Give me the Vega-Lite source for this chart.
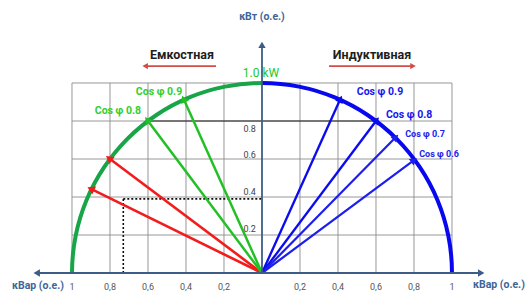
{
  "$schema": "https://vega.github.io/schema/vega-lite/v6.json",
  "width": 531,
  "height": 293,
  "padding": 0,
  "autosize": {"type": "none"},
  "background": "white",
  "config": {"view": {"stroke": null}, "text": {"font": "Roboto"}},
  "resolve": {"scale": {"color": "independent", "size": "independent", "strokeWidth": "independent"}},
  "encoding": {
    "x": {"field": "x", "type": "quantitative", "scale": {"domain": [-1.3789, 1.4158], "nice": false, "zero": false}, "axis": null},
    "y": {"field": "y", "type": "quantitative", "scale": {"domain": [-0.10526, 1.43684], "nice": false, "zero": false}, "axis": null}
  },
  "layer": [
    {
      "data": {"values": [
        {"x": -1, "y": 0, "y2": 1}, {"x": -0.8, "y": 0, "y2": 1}, {"x": -0.6, "y": 0, "y2": 1},
        {"x": -0.4, "y": 0, "y2": 1}, {"x": -0.2, "y": 0, "y2": 1}, {"x": 0.2, "y": 0, "y2": 1},
        {"x": 0.4, "y": 0, "y2": 1}, {"x": 0.6, "y": 0, "y2": 1}, {"x": 0.8, "y": 0, "y2": 1},
        {"x": 1, "y": 0, "y2": 1}
      ]},
      "mark": {"type": "rule", "color": "#8c8c8c", "strokeWidth": 0.9},
      "encoding": {"y2": {"field": "y2"}}
    },
    {
      "data": {"values": [
        {"x": -1, "x2": 1, "y": 0.2}, {"x": -1, "x2": 1, "y": 0.4}, {"x": -1, "x2": 1, "y": 0.6},
        {"x": -1, "x2": 1, "y": 0.8}, {"x": -1, "x2": 1, "y": 1.0}
      ]},
      "mark": {"type": "rule", "color": "#8c8c8c", "strokeWidth": 0.9},
      "encoding": {"x2": {"field": "x2"}}
    },
    {
      "data": {"values": [{"x": -0.6, "x2": 0.6, "y": 0.8}]},
      "mark": {"type": "rule", "color": "#222222", "strokeWidth": 1.1},
      "encoding": {"x2": {"field": "x2"}}
    },
    {
      "data": {"values": [
        {"x": -0.73, "y": 0, "x2": -0.73, "y2": 0.39},
        {"x": -0.73, "y": 0.39, "x2": 0, "y2": 0.39}
      ]},
      "mark": {"type": "rule", "color": "#111111", "strokeWidth": 1.6, "strokeDash": [2, 2]},
      "encoding": {"x2": {"field": "x2"}, "y2": {"field": "y2"}}
    },
    {
      "data": {"values": [
        {"x": 0, "y": 0, "start": -1.5708, "end": 0, "side": "left"},
        {"x": 0, "y": 0, "start": 0, "end": 1.5708, "side": "right"}
      ]},
      "mark": {"type": "arc", "radius": 192, "radius2": 188},
      "encoding": {
        "theta": {"field": "start", "type": "quantitative", "scale": null},
        "theta2": {"field": "end"},
        "color": {"field": "side", "type": "nominal", "scale": {"domain": ["left", "right"], "range": ["#17a548", "#0808f0"]}, "legend": null}
      }
    },
    {
      "data": {"values": [
        {"x": 0, "y": 0, "x2": -0.80, "y2": 0.60, "kind": "red"},
        {"x": 0, "y": 0, "x2": -0.895, "y2": 0.44, "kind": "red"},
        {"x": 0, "y": 0, "x2": -0.60, "y2": 0.80, "kind": "green"},
        {"x": 0, "y": 0, "x2": -0.41, "y2": 0.91, "kind": "green"},
        {"x": 0, "y": 0, "x2": 0.41, "y2": 0.91, "kind": "blue"},
        {"x": 0, "y": 0, "x2": 0.60, "y2": 0.80, "kind": "blue"},
        {"x": 0, "y": 0, "x2": 0.70, "y2": 0.71, "kind": "bluethin"},
        {"x": 0, "y": 0, "x2": 0.795, "y2": 0.59, "kind": "bluethin"}
      ]},
      "layer": [
        {
          "mark": {"type": "rule"},
          "encoding": {
            "x2": {"field": "x2"},
            "y2": {"field": "y2"},
            "color": {"field": "kind", "type": "nominal", "scale": {"domain": ["red", "green", "blue", "bluethin"], "range": ["#f21c1c", "#22c025", "#0b0bee", "#1d1df0"]}, "legend": null},
            "strokeWidth": {"field": "kind", "type": "nominal", "scale": {"domain": ["red", "green", "blue", "bluethin"], "range": [2.6, 2.2, 2.8, 1.1]}, "legend": null}
          }
        },
        {
          "transform": [{"calculate": "atan2(datum.x2, datum.y2) * 180 / PI", "as": "angle"}],
          "mark": {"type": "point", "shape": "triangle", "filled": true, "opacity": 1},
          "encoding": {
            "x": {"field": "x2", "type": "quantitative"},
            "y": {"field": "y2", "type": "quantitative"},
            "angle": {"field": "angle", "type": "quantitative", "scale": null},
            "color": {"field": "kind", "type": "nominal", "scale": {"domain": ["red", "green", "blue", "bluethin"], "range": ["#f21c1c", "#22c025", "#0b0bee", "#1d1df0"]}, "legend": null},
            "size": {"field": "kind", "type": "nominal", "scale": {"domain": ["red", "green", "blue", "bluethin"], "range": [75, 65, 75, 35]}, "legend": null}
          }
        }
      ]
    },
    {
      "data": {"values": [
        {"x": -1.195, "x2": 1.163, "y": 0, "y2": 0},
        {"x": 0, "x2": 0, "y": 0, "y2": 1.21}
      ]},
      "mark": {"type": "rule", "color": "#3d5d88", "strokeWidth": 1.8},
      "encoding": {"x2": {"field": "x2"}, "y2": {"field": "y2"}}
    },
    {
      "data": {"values": [
        {"x": -1.18, "y": 0, "dir": 270},
        {"x": 1.148, "y": 0, "dir": 90},
        {"x": 0, "y": 1.195, "dir": 0}
      ]},
      "mark": {"type": "point", "shape": "triangle", "filled": true, "opacity": 1, "color": "#3d5d88", "size": 55},
      "encoding": {"angle": {"field": "dir", "type": "quantitative", "scale": null}}
    },
    {
      "data": {"values": [
        {"x": -0.616, "x2": -0.242, "y": 1.089},
        {"x": 0.353, "x2": 0.795, "y": 1.089}
      ]},
      "mark": {"type": "rule", "color": "#d44c47", "strokeWidth": 1.8},
      "encoding": {"x2": {"field": "x2"}}
    },
    {
      "data": {"values": [
        {"x": -0.61, "y": 1.089, "dir": 270},
        {"x": 0.79, "y": 1.089, "dir": 90}
      ]},
      "mark": {"type": "point", "shape": "triangle", "filled": true, "opacity": 1, "color": "#d44c47", "size": 40},
      "encoding": {"angle": {"field": "dir", "type": "quantitative", "scale": null}}
    },
    {
      "data": {"values": [
        {"x": -1, "y": -0.074, "t": "1"}, {"x": -0.8, "y": -0.074, "t": "0,8"},
        {"x": -0.6, "y": -0.074, "t": "0,6"}, {"x": -0.4, "y": -0.074, "t": "0,4"},
        {"x": -0.2, "y": -0.074, "t": "0,2"}, {"x": 0.2, "y": -0.074, "t": "0,2"},
        {"x": 0.4, "y": -0.074, "t": "0,4"}, {"x": 0.6, "y": -0.074, "t": "0,6"},
        {"x": 0.8, "y": -0.074, "t": "0,8"}, {"x": 1, "y": -0.074, "t": "1"}
      ]},
      "mark": {"type": "text", "fontSize": 9, "color": "#555555", "baseline": "middle"},
      "encoding": {"text": {"field": "t"}}
    },
    {
      "data": {"values": [
        {"x": -0.032, "y": 0.232, "t": "0.2"}, {"x": -0.032, "y": 0.426, "t": "0.4"},
        {"x": -0.032, "y": 0.621, "t": "0.6"}, {"x": -0.032, "y": 0.758, "t": "0.8"}
      ]},
      "mark": {"type": "text", "fontSize": 9, "color": "#444444", "baseline": "middle", "align": "right"},
      "encoding": {"text": {"field": "t"}}
    },
    {
      "data": {"values": [
        {"x": -1.179, "y": -0.068, "t": "кВар (о.е.)"},
        {"x": 1.247, "y": -0.063, "t": "кВар (о.е.)"},
        {"x": 0, "y": 1.347, "t": "кВт (о.е.)"}
      ]},
      "mark": {"type": "text", "fontSize": 10.5, "fontWeight": "bold", "color": "#3d6597", "baseline": "middle"},
      "encoding": {"text": {"field": "t"}}
    },
    {
      "data": {"values": [
        {"x": -0.421, "y": 1.147, "t": "Емкостная"},
        {"x": 0.579, "y": 1.147, "t": "Индуктивная"}
      ]},
      "mark": {"type": "text", "fontSize": 12.5, "fontWeight": "bold", "color": "#1e1e1e", "baseline": "middle"},
      "encoding": {"text": {"field": "t"}}
    },
    {
      "data": {"values": [{"x": -0.005, "y": 1.053, "t": "1.0 kW"}]},
      "mark": {"type": "text", "fontSize": 12, "color": "#22c725", "baseline": "middle"},
      "encoding": {"text": {"field": "t"}}
    },
    {
      "data": {"values": [
        {"x": -0.542, "y": 0.953, "t": "Cos φ 0.9"},
        {"x": -0.758, "y": 0.853, "t": "Cos φ 0.8"}
      ]},
      "mark": {"type": "text", "fontSize": 10.5, "fontWeight": "bold", "baseline": "middle", "color": "#2fcf2f"},
      "encoding": {"text": {"field": "t"}}
    },
    {
      "data": {"values": [
        {"x": 0.621, "y": 0.953, "t": "Cos φ 0.9"},
        {"x": 0.774, "y": 0.832, "t": "Cos φ 0.8"}
      ]},
      "mark": {"type": "text", "fontSize": 10.5, "fontWeight": "bold", "baseline": "middle", "color": "#1616f2"},
      "encoding": {"text": {"field": "t"}}
    },
    {
      "data": {"values": [
        {"x": 0.858, "y": 0.732, "t": "Cos φ 0.7"},
        {"x": 0.932, "y": 0.626, "t": "Cos φ 0.6"}
      ]},
      "mark": {"type": "text", "fontSize": 9, "fontWeight": "bold", "baseline": "middle", "color": "#2020f0"},
      "encoding": {"text": {"field": "t"}}
    }
  ]
}
